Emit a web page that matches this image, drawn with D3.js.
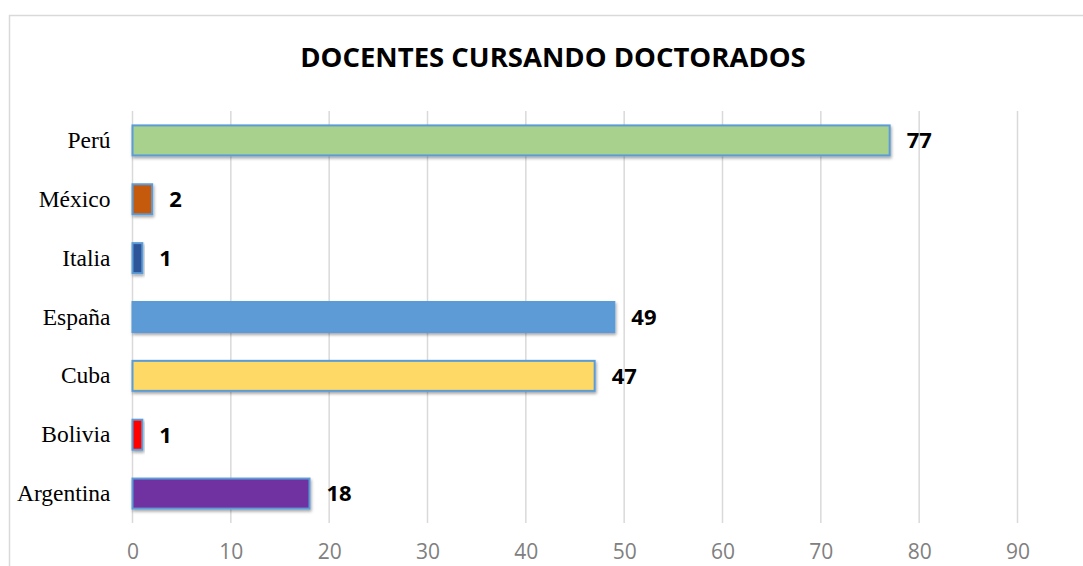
<!DOCTYPE html>
<html>
<head>
<meta charset="utf-8">
<script src="https://cdn.jsdelivr.net/npm/d3@7"></script>
<style>
  body { margin: 0; background: #fff; }
</style>
</head>
<body>
<script>
// data, top to bottom as shown
const countries = ['Perú', 'México', 'Italia', 'España', 'Cuba', 'Bolivia', 'Argentina'];
const docentes = [77, 2, 1, 49, 47, 1, 18];
const barColors = ['#A9D18E', '#C55A11', '#2F5597', '#5B9BD5', '#FFD966', '#FF0000', '#7030A0'];
const xTicks = [0, 10, 20, 30, 40, 50, 60, 70, 80, 90];

const W = 1083, H = 566;
const margin = { top: 111, left: 132.5, right: 66, bottom: 43 };

let svg = d3.select('body').append('svg')
    .attr('width', W)
    .attr('height', H);

let defs = svg.append('defs');
let shadow = defs.append('filter').attr('id', 'shadow')
    .attr('x', '-20%').attr('y', '-30%').attr('width', '140%').attr('height', '180%');
shadow.append('feDropShadow')
    .attr('dx', 1).attr('dy', 2).attr('stdDeviation', 1.5)
    .attr('flood-color', '#000').attr('flood-opacity', 0.35);

// chart frame (runs off the bottom/right like the original)
svg.append('rect')
    .attr('x', 9.5).attr('y', 15.5)
    .attr('width', W).attr('height', H)
    .attr('fill', 'none')
    .attr('stroke', '#D9D9D9')
    .attr('stroke-width', 1.5);

svg.append('text')
    .attr('x', 553).attr('y', 67)
    .attr('text-anchor', 'middle')
    .attr('font-family', 'Open Sans, sans-serif')
    .attr('font-weight', 'bold')
    .attr('font-size', 27.5)
    .attr('fill', '#000')
    .text('DOCENTES CURSANDO DOCTORADOS');

let x = d3.scaleLinear()
    .domain([0, 90])
    .range([margin.left, 1017.5]);

let y = d3.scaleBand()
    .domain(countries)
    .range([margin.top, H - margin.bottom])
    .paddingInner(0.49)
    .paddingOuter(0.245);

// gridlines
svg.append('g')
    .selectAll('line')
    .data(xTicks)
    .enter()
    .append('line')
    .attr('x1', (d) => x(d)).attr('x2', (d) => x(d))
    .attr('y1', margin.top).attr('y2', H - margin.bottom)
    .attr('stroke', '#D9D9D9')
    .attr('stroke-width', 1.5);

// x axis labels
let xAxis = d3.axisBottom(x).tickValues(xTicks).tickSize(0).tickPadding(0);
let gx = svg.append('g')
    .attr('transform', `translate(0, ${H - margin.bottom + 17})`)
    .call(xAxis);
gx.select('.domain').remove();
gx.selectAll('text')
    .attr('dy', '0.9em')
    .attr('font-family', 'Open Sans, sans-serif')
    .attr('font-size', 21)
    .attr('fill', '#808080');

// y axis labels
let yAxis = d3.axisLeft(y).tickSize(0).tickPadding(22);
let gy = svg.append('g')
    .attr('transform', `translate(${margin.left}, 0)`)
    .call(yAxis);
gy.select('.domain').remove();
gy.selectAll('text')
    .attr('font-family', 'Liberation Serif, Times New Roman, serif')
    .attr('font-size', 23.5)
    .attr('fill', '#000');

// bars
svg.append('g')
    .selectAll('rect')
    .data(countries)
    .enter()
    .append('rect')
    .attr('x', x(0))
    .attr('y', (d) => y(d))
    .attr('width', (d, i) => x(docentes[i]) - x(0))
    .attr('height', y.bandwidth())
    .attr('fill', (d, i) => barColors[i])
    .attr('stroke', '#5B9BD5')
    .attr('stroke-width', 2)
    .attr('filter', 'url(#shadow)');

// value labels
svg.append('g')
    .selectAll('text')
    .data(countries)
    .enter()
    .append('text')
    .attr('x', (d, i) => x(docentes[i]) + 17)
    .attr('y', (d) => y(d) + y.bandwidth() / 2)
    .attr('dy', '0.36em')
    .attr('font-family', 'Open Sans, sans-serif')
    .attr('font-weight', 'bold')
    .attr('font-size', 22)
    .attr('fill', '#000')
    .text((d, i) => docentes[i]);
</script>
</body>
</html>
